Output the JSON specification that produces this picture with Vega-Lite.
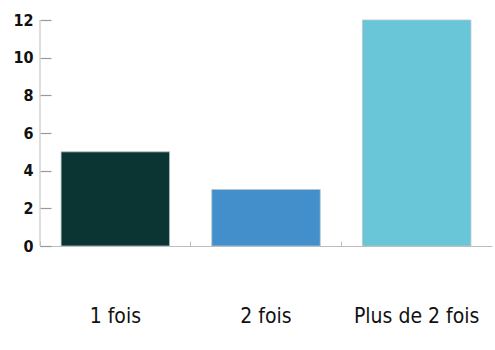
{
  "$schema": "https://vega.github.io/schema/vega-lite/v6.json",
  "width": 452,
  "height": 226,
  "autosize": "none",
  "padding": {"left": 40, "top": 20, "right": 3, "bottom": 104},
  "background": "white",
  "config": {
    "view": {"stroke": null},
    "axisX": {"title": null, "labelAngle": 0, "bandPosition": 0, "domainColor": "#bdbdbd", "tickColor": "#bdbdbd", "tickSize": -5, "labelPadding": 75, "labelFont": "DejaVu Sans Condensed, Roboto Condensed, Roboto, sans-serif", "labelFontSize": 21, "labelColor": "#111", "labelBaseline": "middle"},
    "axisY": {"title": null, "grid": false, "domain": false, "offset": -11, "ticks": true, "tickColor": "#999999", "tickOpacity": 1, "tickWidth": 1.2, "tickSize": 11, "labelPadding": 7, "labelOverlap": false, "labelFont": "DejaVu Sans Condensed, Roboto Condensed, Roboto, sans-serif", "labelFontSize": 16, "labelFontWeight": "bold", "labelColor": "#111"}
  },
  "data": {"values": [
    {"categorie": "1 fois", "nombre": 5},
    {"categorie": "2 fois", "nombre": 3},
    {"categorie": "Plus de 2 fois", "nombre": 12}
  ]},
  "layer": [
    {
      "mark": {"type": "bar", "width": {"band": 0.72}, "stroke": "#b8c4c8", "strokeWidth": 0.8},
      "encoding": {
        "x": {"field": "categorie", "type": "nominal", "sort": null,
          "scale": {"paddingInner": 0, "paddingOuter": 0},
          "axis": {"title": null}},
        "y": {"field": "nombre", "type": "quantitative",
          "scale": {"domain": [0, 12]},
          "axis": {"title": null, "values": [0, 2, 4, 6, 8, 10, 12]}},
        "color": {"field": "categorie", "type": "nominal", "sort": null, "legend": null,
          "scale": {"range": ["#0b3533", "#428fcc", "#69c6d8"]}}
      }
    },
    {
      "data": {"values": [{"a": 0}]},
      "mark": {"type": "rule", "color": "#bdbdbd", "strokeWidth": 1},
      "encoding": {
        "x": {"datum": "1 fois", "bandPosition": 0, "axis": {"title": null}},
        "y": {"datum": 0, "axis": {"title": null, "values": [0, 2, 4, 6, 8, 10, 12]}},
        "y2": {"datum": 12}
      }
    }
  ]
}
